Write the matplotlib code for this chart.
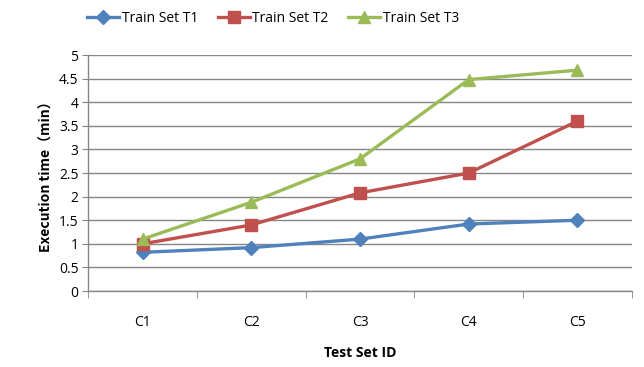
import numpy as np
from matplotlib import pyplot as plt

plt.rcParams['font.family'] = ['Open Sans', 'DejaVu Sans']

categories = ["C1", "C2", "C3", "C4", "C5"]
t1 = [0.82, 0.92, 1.10, 1.42, 1.50]
t2 = [1.00, 1.40, 2.08, 2.50, 3.60]
t3 = [1.10, 1.88, 2.80, 4.48, 4.68]
series_labels = ["Train Set T1", "Train Set T2", "Train Set T3"]

fig = plt.figure(figsize=(6.44, 3.67), dpi=100)
axes = fig.add_axes([0.137, 0.207, 0.844, 0.643])

x = np.arange(1, len(categories) + 1)
grey = "#868686"

axes.plot(x, t1, color="#4F81BD", lw=2.4, marker="D", ms=7, label=series_labels[0])
axes.plot(x, t2, color="#C0504D", lw=2.4, marker="s", ms=8, label=series_labels[1])
axes.plot(x, t3, color="#9BBB59", lw=2.4, marker="^", ms=9, label=series_labels[2])

axes.set_xlim(0.5, len(categories) + 0.5)
axes.set_ylim(0, 5)
axes.set_yticks(np.arange(0, 5.01, 0.5))
axes.set_yticklabels(["0", "0.5", "1", "1.5", "2", "2.5", "3", "3.5", "4", "4.5", "5"])
axes.set_xticks(x)
axes.set_xticklabels(categories)
axes.set_xticks(np.arange(0.5, len(categories) + 1, 1), minor=True)
axes.tick_params(axis="x", which="major", length=0, pad=17, labelsize=10)
axes.tick_params(axis="x", which="minor", length=5, color=grey)
axes.tick_params(axis="y", length=4, color=grey, labelsize=10, pad=3)

axes.grid(axis="y", color=grey, lw=1)
axes.set_axisbelow(True)
for side in ["top", "right"]:
    axes.spines[side].set_visible(False)
for side in ["left", "bottom"]:
    axes.spines[side].set_color(grey)
    axes.spines[side].set_linewidth(1)

axes.set_xlabel("Test Set ID", fontweight="bold", fontsize=10, labelpad=12)
axes.set_ylabel("Execution time\uff08min\uff09", fontweight="bold", fontsize=10,
                family=["Noto Sans CJK SC", "DejaVu Sans"])

axes.legend(loc="center", bbox_to_anchor=(0.34, 1.157), ncol=3, frameon=False,
            fontsize=10, handlelength=2.3, columnspacing=1.4, handletextpad=0.2)

fig.savefig("out.png", dpi=100)
